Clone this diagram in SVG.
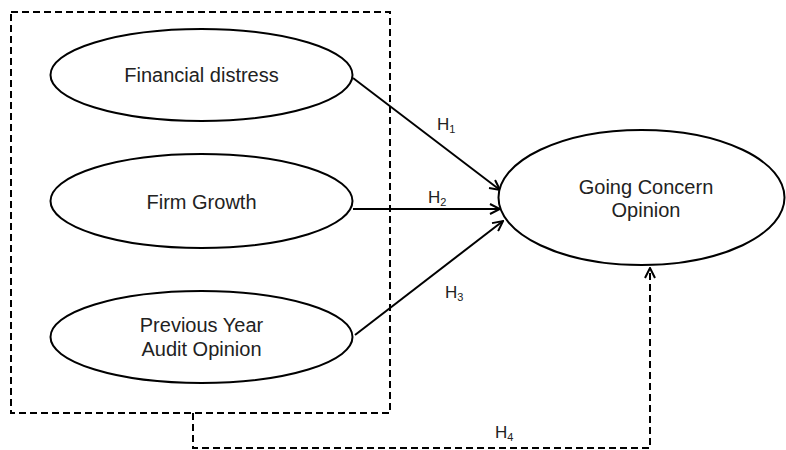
<svg xmlns="http://www.w3.org/2000/svg" width="786" height="450" viewBox="0 0 786 450">
<defs>
<style>
.node ellipse{fill:#fff;stroke:#000;stroke-width:2}
.lbl{font-family:"Liberation Sans",Arial,sans-serif;font-size:20px;fill:#222;text-anchor:middle}
.h{font-family:"Liberation Sans",Arial,sans-serif;font-size:17px;fill:#222}
.h tspan.s{font-size:11px}
.edge{fill:none;stroke:#000;stroke-width:2}
.dash{fill:none;stroke:#000;stroke-width:2;stroke-dasharray:7 4}
</style>
<marker id="arr" viewBox="0 0 12 12" refX="11" refY="6" markerWidth="12" markerHeight="12" markerUnits="userSpaceOnUse" orient="auto">
<path d="M1,1 L11,6 L1,11" fill="none" stroke="#000" stroke-width="2"/>
</marker>
</defs>
<rect width="786" height="450" fill="#fff"/>
<g id="group-box">
<rect x="11" y="12" width="379" height="401" class="dash"/>
</g>
<g id="connectors">
<line x1="353" y1="78" x2="500" y2="190" class="edge" marker-end="url(#arr)"/>
<line x1="353" y1="209" x2="500" y2="209" class="edge" marker-end="url(#arr)"/>
<line x1="355" y1="335" x2="503" y2="221" class="edge" marker-end="url(#arr)"/>
<polyline points="193,413 193,448 650,448 650,268" class="dash" marker-end="url(#arr)"/>
<text class="h" x="437" y="130">H<tspan class="s" dy="3">1</tspan></text>
<text class="h" x="428" y="203">H<tspan class="s" dy="3">2</tspan></text>
<text class="h" x="445" y="298">H<tspan class="s" dy="3">3</tspan></text>
<text class="h" x="495" y="438">H<tspan class="s" dy="3">4</tspan></text>
</g>
<g id="financial-distress" class="node">
<ellipse cx="201.5" cy="75" rx="151" ry="46"/>
<text class="lbl" x="201.5" y="82">Financial distress</text>
</g>
<g id="firm-growth" class="node">
<ellipse cx="201.5" cy="201" rx="151" ry="47"/>
<text class="lbl" x="201.5" y="209">Firm Growth</text>
</g>
<g id="previous-year-audit-opinion" class="node">
<ellipse cx="201.5" cy="337" rx="151" ry="46"/>
<text class="lbl" x="201.5" y="332">Previous Year</text>
<text class="lbl" x="201.5" y="356">Audit Opinion</text>
</g>
<g id="going-concern-opinion" class="node">
<ellipse cx="641.5" cy="197.5" rx="143" ry="67.5"/>
<text class="lbl" x="646" y="194">Going Concern</text>
<text class="lbl" x="646" y="217">Opinion</text>
</g>
</svg>
